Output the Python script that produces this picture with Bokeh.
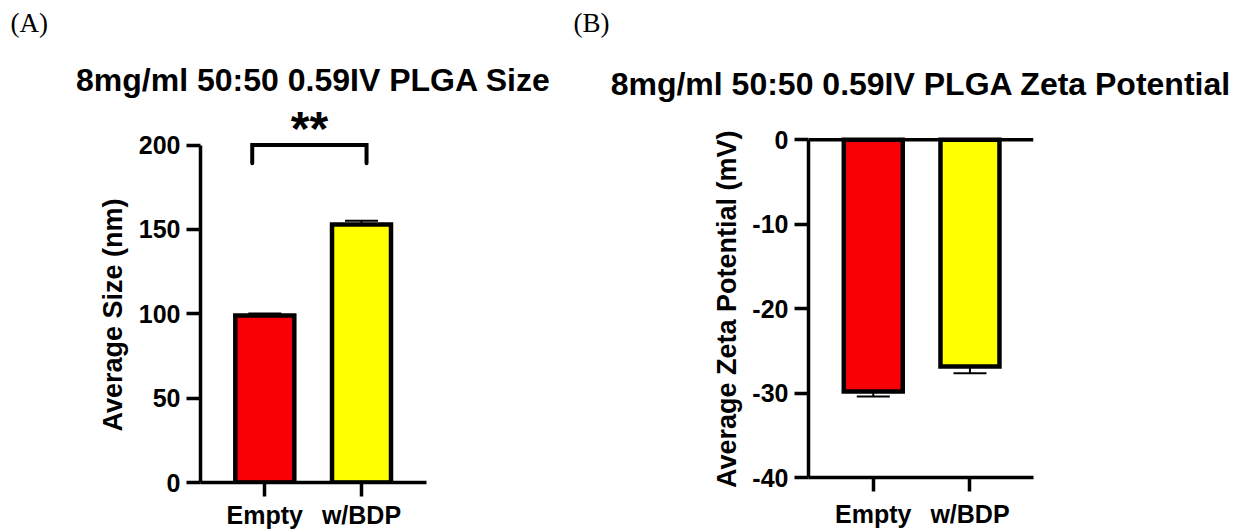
from bokeh.plotting import figure
from bokeh.layouts import row, column
from bokeh.models import (Range1d, FixedTicker, Span, Title, Whisker,
                          ColumnDataSource, TeeHead)
from bokeh.core.properties import value
from bokeh.embed import file_html
from bokeh.resources import INLINE

# ---- data -------------------------------------------------------------
categories = ["Empty", "w/BDP"]
bar_colors = ["#f90007", "#ffff00"]

size_mean = [99.0, 152.9]      # nm
size_sd = [1.2, 2.2]
size_ticks = [0, 50, 100, 150, 200]

zeta_mean = [-29.8, -26.85]    # mV
zeta_sd = [0.6, 0.8]
zeta_ticks = [-40, -30, -20, -10, 0]

sig_label = "**"

title_a = "8mg/ml 50:50 0.59IV PLGA Size"
title_b = "8mg/ml 50:50 0.59IV PLGA Zeta Potential"
ylabel_a = "Average Size (nm)"
ylabel_b = "Average Zeta Potential (mV)"

# ---- styling ----------------------------------------------------------
FONT = "Liberation Sans"
SERIF = "Liberation Serif"
AX_W = 3.5
BAR_W = 0.61
BAR_LW = 4.5

xpos = list(range(1, len(categories) + 1))
xlabels = {x: c for x, c in zip(xpos, categories)}


def style_axes(p, yticks, x_standoff):
    p.xgrid.visible = False
    p.ygrid.visible = False
    p.outline_line_color = None
    p.background_fill_color = "white"
    p.border_fill_color = "white"
    for ax in (p.xaxis[0], p.yaxis[0]):
        ax.axis_line_width = AX_W
        ax.axis_line_color = "black"
        ax.major_tick_line_width = AX_W
        ax.major_tick_line_color = "black"
        ax.major_tick_out = 14
        ax.major_tick_in = 0
        ax.minor_tick_line_color = None
        ax.major_label_text_font = FONT
        ax.major_label_text_font_style = "bold"
        ax.major_label_text_font_size = "25px"
        ax.major_label_text_color = "black"
    p.xaxis[0].ticker = FixedTicker(ticks=xpos)
    p.xaxis[0].major_label_overrides = xlabels
    p.xaxis[0].major_label_standoff = x_standoff
    p.yaxis[0].ticker = FixedTicker(ticks=yticks)
    p.yaxis[0].major_label_overrides = {t: str(t) for t in yticks}
    p.yaxis[0].major_label_standoff = 6
    p.yaxis[0].bounds = (min(yticks), max(yticks))


def titles(p, tag, tag_offset, tag_standoff, text, standoff,
           ylabel, ylabel_offset, ylabel_standoff):
    # panel tag sits outermost, the chart title right above the frame
    p.title.text = tag
    p.title.align = "left"
    p.title.vertical_align = "top"
    p.title.offset = tag_offset
    p.title.standoff = tag_standoff
    p.title.text_font = SERIF
    p.title.text_font_style = "normal"
    p.title.text_font_size = "27px"
    p.title.text_color = "black"
    p.add_layout(Title(text=text, align="center", standoff=standoff,
                       text_font=FONT, text_font_style="bold",
                       text_font_size="32px", text_color="black"), "above")
    # value-axis caption, placed beside the tick labels
    p.add_layout(Title(text=ylabel, align="left", offset=ylabel_offset,
                       standoff=ylabel_standoff, text_font=FONT,
                       text_font_style="bold", text_font_size="27px",
                       text_color="black"), "left")


# ---- panel A : particle size -----------------------------------------
pa = figure(width=560, height=531, output_backend="svg", toolbar_location=None,
            x_range=Range1d(0.335, 2.672), y_range=Range1d(0, 220.5),
            min_border_left=200, min_border_right=134,
            min_border_top=110, min_border_bottom=48)
style_axes(pa, size_ticks, 4)
titles(pa, "(A)", -190, 15, title_a, 25, ylabel_a, 51, 15)

src_a = ColumnDataSource(dict(
    x=xpos, top=size_mean, color=bar_colors,
    upper=[m + s for m, s in zip(size_mean, size_sd)], lower=size_mean))
pa.vbar(x="x", top="top", bottom=0, width=BAR_W, source=src_a,
        fill_color="color", line_color="black", line_width=BAR_LW,
        line_join="miter")
pa.add_layout(Whisker(base="x", upper="upper", lower="lower", source=src_a,
                      dimension="height", line_width=2, line_color="black",
                      upper_head=TeeHead(size=33, line_width=2, line_color="black"),
                      lower_head=None))

# significance bracket between the two groups
br_left, br_right, br_top, br_tip = 0.870, 2.052, 200, 189.2
pa.line(x=[br_left, br_left, br_right, br_right],
        y=[br_tip, br_top, br_top, br_tip],
        line_width=4, line_color="black", line_join="miter", line_cap="round")
pa.text(x=[(br_left + br_right) / 2], y=[210.0], text=[sig_label],
        text_font=value(FONT), text_font_style="bold", text_font_size="48px",
        text_align="center", text_baseline="middle", text_color="black")

# ---- panel B : zeta potential ----------------------------------------
pb = figure(width=673, height=531, output_backend="svg", toolbar_location=None,
            x_range=Range1d(0.33, 2.657), y_range=Range1d(-40, 2.288),
            min_border_left=248, min_border_right=200,
            min_border_top=120, min_border_bottom=54)
style_axes(pb, zeta_ticks, 8)
titles(pb, "(B)", -235, 11, title_b, 37, ylabel_b, -10.6, 16)

src_b = ColumnDataSource(dict(
    x=xpos, bottom=zeta_mean, color=bar_colors,
    upper=zeta_mean, lower=[m - s for m, s in zip(zeta_mean, zeta_sd)]))
pb.vbar(x="x", top=0, bottom="bottom", width=BAR_W, source=src_b,
        fill_color="color", line_color="black", line_width=BAR_LW,
        line_join="miter")
pb.add_layout(Whisker(base="x", upper="upper", lower="lower", source=src_b,
                      dimension="height", line_width=2, line_color="black",
                      lower_head=TeeHead(size=33, line_width=2, line_color="black"),
                      upper_head=None))
pb.add_layout(Span(location=0, dimension="width", line_width=AX_W,
                   line_color="black"))

layout = row(column(pa), column(pb), spacing=0)
open("out.html", "w").write(file_html(layout, INLINE))
